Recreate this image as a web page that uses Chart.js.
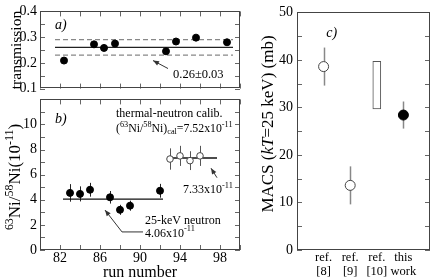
<!DOCTYPE html>
<html>
<head>
<meta charset="utf-8">
<script src="https://cdn.jsdelivr.net/npm/chart.js@4"></script>
<style>
  body { margin: 0; background: #fff; width: 436px; height: 278px; position: relative; overflow: hidden; }
  canvas { position: absolute; }
</style>
</head>
<body>
<canvas id="pa" width="250" height="100" style="left:0;top:0"></canvas>
<canvas id="pb" width="250" height="190" style="left:0;top:88px"></canvas>
<canvas id="pc" width="186" height="278" style="left:250px;top:0"></canvas>
<script>
// ---- data ----
const runTicks = [82, 86, 90, 94, 98];

// a) transmission per run
const transRuns = [82.4, 85.4, 86.4, 87.5, 92.6, 93.6, 95.6, 98.7];
const transVals = [0.209, 0.272, 0.258, 0.275, 0.245, 0.283, 0.298, 0.280];
const transErrs = [0.008, 0.008, 0.008, 0.008, 0.008, 0.008, 0.008, 0.008];
const transMean = 0.26;
const transSigma = 0.03;
const transSpan = [81.5, 99.3];

// b) 63Ni/58Ni ratios (1e-11)
const ratioRuns = [83, 84, 85, 87, 88, 89, 92];
const ratioVals = [4.55, 4.47, 4.8, 4.2, 3.2, 3.53, 4.72];
const ratioErrs = [0.7, 0.6, 0.55, 0.5, 0.4, 0.4, 0.55];
const ratioMean = 4.06;
const ratioSpan = [82.3, 92.3];
const calRuns = [93, 94, 95, 96];
const calVals = [7.25, 7.5, 7.12, 7.5];
const calErrs = [0.85, 0.8, 0.75, 0.8];
const calMean = 7.33;
const calSpan = [92.8, 97.7];

// c) MACS (mb)
const macsRefs = [['ref.', '[8]'], ['ref.', '[9]'], ['ref.', '[10]'], ['this', 'work']];
const macsOpenPos = [1, 2];
const macsOpenVals = [38.6, 13.6];
const macsOpenErrs = [4.0, 4.0];
const macsRange10 = [29.7, 39.7];
const macsThisVal = 28.4;
const macsThisErr = 2.85;

// ---- helpers ----
const FONT = "'Liberation Serif', 'Times New Roman', serif";
const pts = (xs, ys) => xs.map((x, i) => ({ x: x, y: ys[i] }));
const range = (a, b, s) => { const r = []; for (let v = a; v <= b + 1e-9; v += s) r.push(+v.toFixed(4)); return r; };

function partFont(p, size) {
  const st = p[1] || '';
  const sz = (st.includes('sup') || st.includes('sub')) ? size * 0.7 : size;
  return (st.includes('it') ? 'italic ' : '') + sz + 'px ' + FONT;
}
function richWidth(ctx, parts, size) {
  let w = 0;
  parts.forEach(p => { ctx.font = partFont(p, size); w += ctx.measureText(p[0]).width; });
  return w;
}
function drawRich(ctx, parts, x, y, size) {
  ctx.textBaseline = 'middle';
  ctx.textAlign = 'left';
  parts.forEach(p => {
    const st = p[1] || '';
    let dy = 0;
    if (st.includes('sup')) dy = -size * 0.38;
    if (st.includes('sub')) dy = size * 0.28;
    ctx.font = partFont(p, size);
    ctx.fillText(p[0], x, y + dy);
    x += ctx.measureText(p[0]).width;
  });
}

const frameTicks = {
  id: 'frameTicks',
  beforeDatasetsDraw(chart) {
    const ctx = chart.ctx;
    const ys = chart.scales.y;
    chart.data.datasets.forEach((ds, i) => {
      if (!ds.errs) return;
      const meta = chart.getDatasetMeta(i);
      ctx.save();
      ctx.strokeStyle = ds.errColor || '#222';
      ctx.lineWidth = ds.errWidth || 1;
      meta.data.forEach((el, j) => {
        const v = ds.data[j].y, e = ds.errs[j];
        const x = Math.round(el.x) + 0.5;
        ctx.beginPath();
        ctx.moveTo(x, ys.getPixelForValue(v + e));
        ctx.lineTo(x, ys.getPixelForValue(v - e));
        ctx.stroke();
      });
      ctx.restore();
    });
  },
  afterDraw(chart, args, o) {
    const { ctx, chartArea: a, scales } = chart;
    ctx.save();
    // ticks, pointing inwards
    ctx.strokeStyle = '#666';
    ctx.lineWidth = 1;
    const L = 5;
    (o.xTicks || []).forEach(v => {
      const x = Math.round(scales.x.getPixelForValue(v)) + 0.5;
      ctx.beginPath();
      if (o.xSides.includes('bottom')) { ctx.moveTo(x, a.bottom); ctx.lineTo(x, a.bottom - L); }
      if (o.xSides.includes('top')) { ctx.moveTo(x, a.top); ctx.lineTo(x, a.top + L); }
      ctx.stroke();
    });
    (o.yTicks || []).forEach(v => {
      const y = Math.round(scales.y.getPixelForValue(v)) + 0.5;
      ctx.beginPath();
      ctx.moveTo(a.left, y); ctx.lineTo(a.left + L, y);
      ctx.moveTo(a.right, y); ctx.lineTo(a.right - L, y);
      ctx.stroke();
    });
    // frame
    ctx.strokeStyle = '#444';
    ctx.strokeRect(Math.round(a.left) + 0.5, Math.round(a.top) + 0.5,
      Math.round(a.right - a.left) - 1, Math.round(a.bottom - a.top) - 1);
    // arrows
    ctx.strokeStyle = '#333';
    ctx.fillStyle = '#333';
    (o.arrows || []).forEach(arr => {
      const p = arr.map(q => [scales.x.getPixelForValue(q[0]), scales.y.getPixelForValue(q[1])]);
      ctx.beginPath();
      ctx.moveTo(p[0][0], p[0][1]);
      p.slice(1).forEach(q => ctx.lineTo(q[0], q[1]));
      ctx.stroke();
      const e = p[p.length - 1], s = p[p.length - 2];
      const ang = Math.atan2(e[1] - s[1], e[0] - s[0]);
      ctx.beginPath();
      ctx.moveTo(e[0], e[1]);
      ctx.lineTo(e[0] - 6 * Math.cos(ang) + 2.5 * Math.sin(ang), e[1] - 6 * Math.sin(ang) - 2.5 * Math.cos(ang));
      ctx.lineTo(e[0] - 6 * Math.cos(ang) - 2.5 * Math.sin(ang), e[1] - 6 * Math.sin(ang) + 2.5 * Math.cos(ang));
      ctx.closePath();
      ctx.fill();
    });
    // texts in data coordinates
    ctx.fillStyle = '#000';
    (o.texts || []).forEach(t => {
      drawRich(ctx, t.parts, scales.x.getPixelForValue(t.x), scales.y.getPixelForValue(t.y), t.size);
    });
    // rotated axis title
    if (o.yTitle) {
      const t = o.yTitle;
      const w = richWidth(ctx, t.parts, t.size);
      ctx.translate(a.left + t.dx, t.cy);
      ctx.rotate(-Math.PI / 2);
      drawRich(ctx, t.parts, -w / 2, 0, t.size);
    }
    ctx.restore();
  }
};

const tickFont = { family: FONT, size: 14 };
const base = {
  responsive: false,
  animation: false,
  events: [],
};

// ---- a) transmission ----
new Chart('pa', {
  type: 'scatter',
  data: {
    datasets: [
      { data: pts(transRuns, transVals), errs: transErrs, pointRadius: 3.5, backgroundColor: '#000', borderColor: '#000' },
      { data: pts(transSpan, [transMean, transMean]), showLine: true, pointRadius: 0, borderColor: '#222', borderWidth: 1.2 },
      { data: pts(transSpan, [transMean + transSigma, transMean + transSigma]), showLine: true, pointRadius: 0, borderColor: '#888', borderWidth: 1.2, borderDash: [5, 3] },
      { data: pts(transSpan, [transMean - transSigma, transMean - transSigma]), showLine: true, pointRadius: 0, borderColor: '#888', borderWidth: 1.2, borderDash: [5, 3] }
    ]
  },
  options: {
    ...base,
    layout: { padding: { left: 0, right: 10, top: 6, bottom: 7 } },
    plugins: {
      legend: { display: false }, tooltip: { enabled: false },
      frameTicks: {
        xTicks: range(80, 100, 2), xSides: ['top', 'bottom'],
        yTicks: range(0.1, 0.4, 0.05),
        arrows: [[[92.8, 0.178], [91.3, 0.209]]],
        texts: [
          { x: 81.5, y: 0.346, size: 14, parts: [['a)', 'it']] },
          { x: 93.3, y: 0.155, size: 12.5, parts: [['0.26\u00b10.03']] }
        ]
      }
    },
    scales: {
      x: { type: 'linear', min: 80, max: 100, display: false, offset: false },
      y: {
        min: 0.1, max: 0.4,
        afterFit(s) { s.width = 40; },
        afterBuildTicks(s) { s.ticks = [0.1, 0.2, 0.3, 0.4].map(v => ({ value: v })); },
        ticks: { callback: v => v.toFixed(1), font: tickFont, color: '#000', padding: 3 },
        grid: { display: false, drawTicks: false },
        border: { display: false },
        title: { display: true, text: 'transmission', font: { family: FONT, size: 15.5, lineHeight: 1 }, color: '#000', padding: 9 }
      }
    }
  },
  plugins: [frameTicks]
});

// ---- b) 63Ni/58Ni ----
new Chart('pb', {
  type: 'scatter',
  data: {
    datasets: [
      { data: pts(ratioRuns, ratioVals), errs: ratioErrs, pointRadius: 3.5, backgroundColor: '#000', borderColor: '#000' },
      { data: pts(calRuns, calVals), errs: calErrs, errColor: '#555', pointRadius: 3.3, backgroundColor: '#fff', borderColor: '#444', borderWidth: 1 },
      { data: pts(ratioSpan, [ratioMean, ratioMean]), showLine: true, pointRadius: 0, borderColor: '#111', borderWidth: 1.3 },
      { data: pts(calSpan, [calMean, calMean]), showLine: true, pointRadius: 0, borderColor: '#111', borderWidth: 1.3 }
    ]
  },
  options: {
    ...base,
    layout: { padding: { left: 0, right: 10, top: 5, bottom: 0 } },
    plugins: {
      legend: { display: false }, tooltip: { enabled: false },
      frameTicks: {
        xTicks: range(80, 100, 2), xSides: ['top', 'bottom'],
        yTicks: range(0, 12, 1),
        arrows: [
          [[97.7, 5.76], [97.1, 6.52]],
          [[90.3, 1.44], [88.2, 1.44], [86.5, 3.18]]
        ],
        texts: [
          { x: 81.5, y: 10.45, size: 14, parts: [['b)', 'it']] },
          { x: 87.6, y: 10.83, size: 12, parts: [['thermal-neutron calib.']] },
          { x: 87.6, y: 9.65, size: 11.8, parts: [['('], ['63', 'sup'], ['Ni/'], ['58', 'sup'], ['Ni)'], ['cal', 'sub'], ['=7.52x10'], ['-11', 'sup']] },
          { x: 94.3, y: 4.77, size: 12, parts: [['7.33x10'], ['-11', 'sup']] },
          { x: 90.5, y: 2.35, size: 12, parts: [['25-keV neutron']] },
          { x: 90.5, y: 1.29, size: 12, parts: [['4.06x10'], ['-11', 'sup']] }
        ],
        yTitle: { dx: -24, cy: 89, size: 17, parts: [['63', 'sup'], ['Ni/'], ['58', 'sup'], ['Ni(10'], ['-11', 'sup'], [')']] }
      }
    },
    scales: {
      x: {
        type: 'linear', min: 80, max: 100, offset: false,
        afterFit(s) { s.height = 28; },
        afterBuildTicks(s) { s.ticks = runTicks.map(v => ({ value: v })); },
        ticks: { font: tickFont, color: '#000', padding: 0, autoSkip: false, maxRotation: 0 },
        grid: { display: false, drawTicks: false },
        border: { display: false },
        title: { display: true, text: 'run number', font: { family: FONT, size: 16, lineHeight: 0.7 }, color: '#000', padding: 0 }
      },
      y: {
        min: 0, max: 12,
        afterFit(s) { s.width = 40; },
        afterBuildTicks(s) { s.ticks = [0, 2, 4, 6, 8, 10].map(v => ({ value: v })); },
        ticks: { font: tickFont, color: '#000', padding: 3 },
        grid: { display: false, drawTicks: false },
        border: { display: false }
      }
    }
  },
  plugins: [frameTicks]
});

// ---- c) MACS ----
new Chart('pc', {
  type: 'scatter',
  data: {
    datasets: [
      { data: pts(macsOpenPos, macsOpenVals), errs: macsOpenErrs, errColor: '#888', errWidth: 1.5, pointRadius: 5, backgroundColor: '#fff', borderColor: '#444', borderWidth: 1 },
      { data: [{ x: 4, y: macsThisVal }], errs: [macsThisErr], errColor: '#888', errWidth: 1.5, pointRadius: 5, backgroundColor: '#000', borderColor: '#000' },
      { type: 'bar', data: [{ x: 3, y: macsRange10 }], barThickness: 8, backgroundColor: '#fff', borderColor: '#555', borderWidth: 1, borderSkipped: false }
    ]
  },
  options: {
    ...base,
    layout: { padding: { left: 0, right: 2, top: 5, bottom: 0 } },
    plugins: {
      legend: { display: false }, tooltip: { enabled: false },
      frameTicks: {
        xTicks: [], xSides: [],
        yTicks: range(0, 50, 5),
        texts: [{ x: 1.1, y: 45.5, size: 14, parts: [['c)', 'it']] }],
        yTitle: { dx: -28, cy: 124, size: 17, parts: [['MACS ('], ['kT', 'it'], ['=25 keV) (mb)']] }
      }
    },
    scales: {
      x: {
        type: 'linear', min: 0, max: 5, offset: false,
        afterFit(s) { s.height = 28; },
        afterBuildTicks(s) { s.ticks = [1, 2, 3, 4].map(v => ({ value: v })); },
        ticks: { callback: v => macsRefs[v - 1], font: { family: FONT, size: 12.5, lineHeight: 1.1 }, color: '#000', padding: 1, autoSkip: false, maxRotation: 0 },
        grid: { display: false, drawTicks: false },
        border: { display: false }
      },
      y: {
        min: 0, max: 50, beginAtZero: true,
        afterFit(s) { s.width = 47; },
        afterBuildTicks(s) { s.ticks = [0, 10, 20, 30, 40, 50].map(v => ({ value: v })); },
        ticks: { font: tickFont, color: '#000', padding: 4 },
        grid: { display: false, drawTicks: false },
        border: { display: false }
      }
    }
  },
  plugins: [frameTicks]
});
</script>
</body>
</html>
